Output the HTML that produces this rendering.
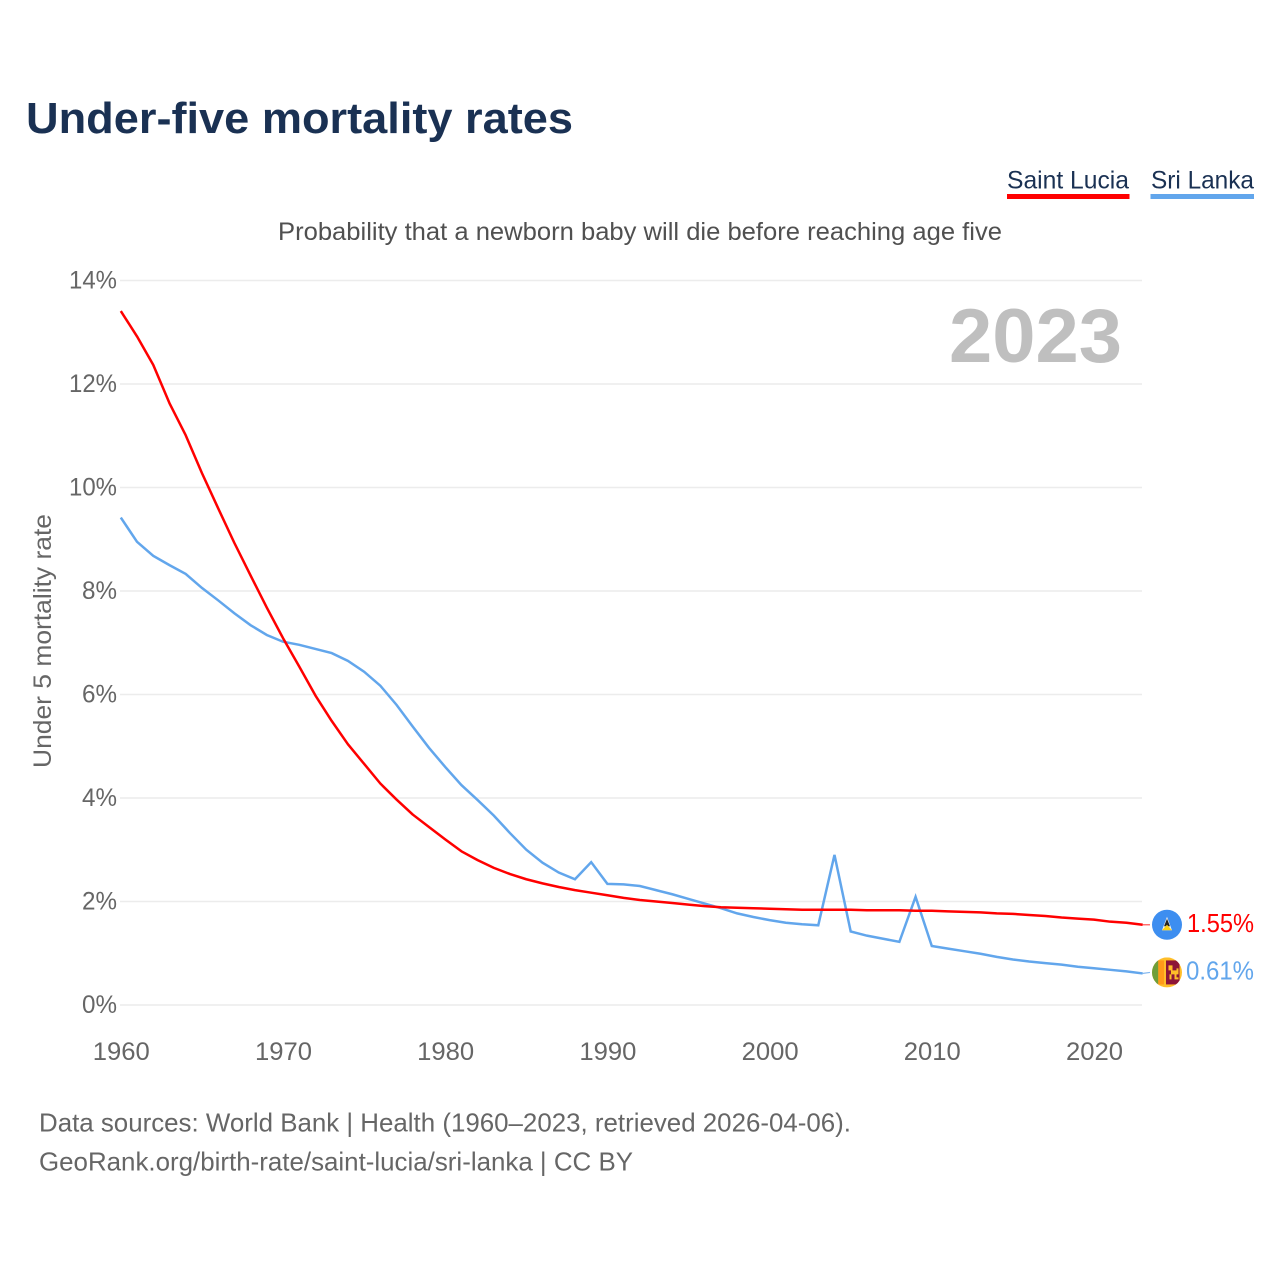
<!DOCTYPE html>
<html lang="en">
<head>
<meta charset="utf-8">
<title>Under-five mortality rates</title>
<style>
html,body{margin:0;padding:0;background:#fff;width:1280px;height:1280px;overflow:hidden}
svg{display:block}
text{font-family:"Liberation Sans",sans-serif}
</style>
</head>
<body>
<svg id="chart" width="1280" height="1280" viewBox="0 0 1280 1280" xmlns="http://www.w3.org/2000/svg">
  <rect x="0" y="0" width="1280" height="1280" fill="#fff"/>
  <text x="26" y="133" font-size="44" font-weight="700" fill="#1a3153" textLength="547" lengthAdjust="spacingAndGlyphs">Under-five mortality rates</text>
  <g>
    <g>
      <text x="1007" y="188.5" font-size="25" fill="#1a3153" textLength="122" lengthAdjust="spacingAndGlyphs">Saint Lucia</text>
      <rect x="1007" y="194" width="122.5" height="5" fill="#ff0000"/>
    </g>
    <g>
      <text x="1151" y="188.5" font-size="25" fill="#1a3153" textLength="103" lengthAdjust="spacingAndGlyphs">Sri Lanka</text>
      <rect x="1150.5" y="194" width="103.5" height="5" fill="#62a6ec"/>
    </g>
  </g>
  <text x="278" y="240" font-size="25" fill="#505050" textLength="724" lengthAdjust="spacingAndGlyphs">Probability that a newborn baby will die before reaching age five</text>
  <g id="grid"></g>
  <g id="yticks"></g>
  <g id="xticks"></g>
  <text transform="translate(51,768) rotate(-90)" font-size="25" fill="#666" textLength="254" lengthAdjust="spacingAndGlyphs">Under 5 mortality rate</text>
  <text x="949" y="362" font-size="76" font-weight="700" fill="#bfbfbf" textLength="173" lengthAdjust="spacingAndGlyphs">2023</text>
  <g id="series"></g>
  <g id="endmarks"></g>
  <text x="39" y="1131.5" font-size="26" fill="#666" textLength="812" lengthAdjust="spacingAndGlyphs">Data sources: World Bank | Health (1960–2023, retrieved 2026-04-06).</text>
  <text x="39" y="1170.5" font-size="26" fill="#666" textLength="594" lengthAdjust="spacingAndGlyphs">GeoRank.org/birth-rate/saint-lucia/sri-lanka | CC BY</text>
</svg>
<script>
const startYear = 1960;
const yTickValues = [0, 2, 4, 6, 8, 10, 12, 14];
const yTickLabels = ["0%", "2%", "4%", "6%", "8%", "10%", "12%", "14%"];
const xTickValues = [1960, 1970, 1980, 1990, 2000, 2010, 2020];
const xTickLabels = ["1960", "1970", "1980", "1990", "2000", "2010", "2020"];
const saintLuciaValues = [
  13.41, 12.92, 12.37, 11.63, 11.01, 10.28, 9.60, 8.93, 8.30, 7.68,
  7.09, 6.54, 5.98, 5.49, 5.04, 4.66, 4.28, 3.97, 3.68, 3.44,
  3.20, 2.97, 2.80, 2.65, 2.53, 2.43, 2.35, 2.28, 2.22, 2.17,
  2.12, 2.07, 2.03, 2.00, 1.97, 1.94, 1.91, 1.89, 1.88, 1.87,
  1.86, 1.85, 1.84, 1.84, 1.84, 1.84, 1.83, 1.83, 1.83, 1.82,
  1.82, 1.81, 1.80, 1.79, 1.77, 1.76, 1.74, 1.72, 1.69, 1.67,
  1.65, 1.61, 1.59, 1.55
];
const sriLankaValues = [
  9.42, 8.95, 8.68, 8.50, 8.33, 8.06, 7.82, 7.57, 7.34, 7.15,
  7.02, 6.96, 6.88, 6.80, 6.65, 6.44, 6.17, 5.80, 5.38, 4.97,
  4.60, 4.25, 3.96, 3.66, 3.32, 3.00, 2.75, 2.56, 2.43, 2.76,
  2.34, 2.33, 2.30, 2.22, 2.14, 2.05, 1.96, 1.87, 1.77, 1.70,
  1.64, 1.59, 1.56, 1.54, 2.90, 1.42, 1.34, 1.28, 1.22, 2.09,
  1.14, 1.09, 1.04, 0.99, 0.93, 0.88, 0.84, 0.81, 0.78, 0.74,
  0.71, 0.68, 0.65, 0.61
];

const NS = "http://www.w3.org/2000/svg";
function xScale(year) { return 120.8 + (year - 1960) * (1094 - 120.8) / 60; }
function yScale(v) { return 1005 - v * (1005 - 280.5) / 14; }
function make(tag, attrs, parent) {
  const el = document.createElementNS(NS, tag);
  for (const k in attrs) el.setAttribute(k, attrs[k]);
  parent.appendChild(el);
  return el;
}

const grid = document.getElementById("grid");
const yticks = document.getElementById("yticks");
const xticks = document.getElementById("xticks");
const series = document.getElementById("series");
const endmarks = document.getElementById("endmarks");

yTickValues.forEach(function (v, i) {
  const line = make("line", {x1: 120, x2: 1142, y1: yScale(v), y2: yScale(v), stroke: "#ececec", "stroke-width": 1.6}, grid);
  
  
  const label = make("text", {x: 117, y: yScale(v) + 8, "text-anchor": "end", "font-size": 25, fill: "#666"}, yticks);
  
  
  label.textContent = yTickLabels[i];
  label.setAttribute("textLength", yTickLabels[i].length === 2 ? 35 : 48);
  label.setAttribute("lengthAdjust", "spacingAndGlyphs");
});

xTickValues.forEach(function (y, i) {
  const label = make("text", {x: xScale(y) + 0.5, y: 1060, "text-anchor": "middle", "font-size": 25, fill: "#666", textLength: 57, lengthAdjust: "spacingAndGlyphs"}, xticks);
  
  
  label.textContent = xTickLabels[i];
});

function linePoints(values) {
  return values.map(function (v, i) {
    return xScale(startYear + i).toFixed(2) + "," + yScale(v).toFixed(2);
  }).join(" ");
}

const slLine = make("polyline", {points: linePoints(sriLankaValues), fill: "none", stroke: "#62a6ec", "stroke-width": 2.5, "stroke-linejoin": "miter"}, series);


const lcLine = make("polyline", {points: linePoints(saintLuciaValues), fill: "none", stroke: "#ff0000", "stroke-width": 2.5, "stroke-linejoin": "round"}, series);



const lastYear = startYear + saintLuciaValues.length - 1;
const lcLast = saintLuciaValues[saintLuciaValues.length - 1];
const slLast = sriLankaValues[sriLankaValues.length - 1];
const cx = 1167;

/* Saint Lucia end marker */
const lcY = yScale(lcLast);
const lcLead = make("line", {x1: xScale(lastYear), x2: 1150, y1: lcY, y2: lcY, stroke: "#ff0000", "stroke-width": 1.2, opacity: 0.7}, endmarks);


const lcFlag = make("g", {transform: "translate(" + cx + "," + lcY + ")"}, endmarks);


make("circle", {r: 15, fill: "#3d8ef0"}, lcFlag);
make("polygon", {points: "-5,5.5 0,-8 5,5.5", fill: "#f4f4f4"}, lcFlag);
make("polygon", {points: "-3,1.5 0,-6 3,1.5", fill: "#222"}, lcFlag);
make("polygon", {points: "-5,5.5 0,0 5,5.5", fill: "#fcd116"}, lcFlag);
const lcLabel = make("text", {x: 1187, y: lcY + 7, "font-size": 26, fill: "#ff0000", textLength: 67, lengthAdjust: "spacingAndGlyphs"}, endmarks);


lcLabel.textContent = lcLast.toFixed(2) + "%";

/* Sri Lanka end marker */
const slY = yScale(slLast);
const slLead = make("line", {x1: xScale(lastYear), x2: 1150, y1: slY, y2: slY - 1, stroke: "#62a6ec", "stroke-width": 1.2, opacity: 0.8}, endmarks);


const flagY = slY - 1;
const clip = make("clipPath", {id: "slClip"}, endmarks);
make("circle", {cx: cx, cy: flagY, r: 15}, clip);
const slFlag = make("g", {"clip-path": "url(#slClip)"}, endmarks);


make("rect", {x: cx - 15, y: flagY - 15, width: 30, height: 30, fill: "#ffbe29"}, slFlag);
make("rect", {x: cx - 15, y: flagY - 12, width: 6.3, height: 24, fill: "#6f9e3a"}, slFlag);
make("rect", {x: cx - 8.7, y: flagY - 12, width: 5.7, height: 24, fill: "#ff9a1a"}, slFlag);
make("rect", {x: cx - 1, y: flagY - 12, width: 13.5, height: 24, fill: "#8d1538"}, slFlag);
make("path", {d: "M" + (cx + 1.5) + " " + (flagY - 7) + "h4v5h4v-2h2v6h-2v3h2v2h-4v-5h-3v5h-2v-5h1.500v-4h-2.500z", fill: "#ffbe29"}, slFlag);
const slLabel = make("text", {x: 1186, y: flagY + 7, "font-size": 26, fill: "#62a6ec", textLength: 68, lengthAdjust: "spacingAndGlyphs"}, endmarks);


slLabel.textContent = slLast.toFixed(2) + "%";
</script>
</body>
</html>
